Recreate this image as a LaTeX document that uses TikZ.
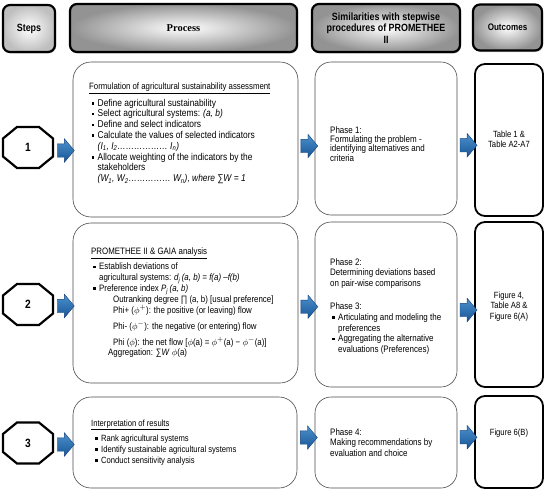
\documentclass[tikz,border=0pt]{standalone}
\usepackage{fontspec}
\setmainfont{Liberation Sans}[FakeStretch=0.85]
\newfontfamily\hserif{Liberation Serif}
\usetikzlibrary{shapes.arrows,shadows,calc}
\newcommand\bl{\makebox[6pt][l]{\rule[1.5pt]{2.6pt}{2.6pt}}}
\definecolor{arrtop}{RGB}{75,145,205}
\definecolor{arrbot}{RGB}{25,85,150}
\definecolor{arredge}{RGB}{20,65,125}
\begin{document}
\begin{tikzpicture}[x=1pt,y=-1pt,
  hdr/.style={draw=black, line width=2.2pt, rounded corners=7pt, inner color=white, outer color=gray!85,
    drop shadow={shadow xshift=1pt,shadow yshift=-1.5pt,opacity=0.35}, align=center, font=\bfseries\fontsize{10.5}{12}\selectfont},
  pbox/.style={draw=gray!60!black, line width=0.6pt, rounded corners=18pt, fill=white},
  sbox/.style={draw=gray!60!black, line width=0.6pt, rounded corners=16pt, fill=white},
  obox/.style={draw=black, line width=1.8pt, rounded corners=10pt, fill=white},
  octo/.style={draw=black, line width=2.2pt, fill=white, line join=miter},
  barrow/.style={single arrow, draw=arredge, line width=0.4pt, minimum height=17pt, inner xsep=0pt, inner ysep=6.5pt,
    single arrow head extend=5pt, single arrow tip angle=100, top color=arrtop, bottom color=arrbot},
  ptxt/.style={anchor=north west, inner sep=0pt, align=left, font=\fontsize{9}{10.8}\selectfont},
  stxt/.style={anchor=north west, inner sep=0pt, align=left},
  otxt/.style={inner sep=0pt, align=center, font=\fontsize{9}{10.5}\selectfont},
  steptxt/.style={inner sep=0pt, font=\bfseries\fontsize{12}{14}\selectfont}
]
\useasboundingbox[fill=white] (0,0) rectangle (550,493);

% headers
\node[hdr, inner color=white, outer color=gray!50, minimum width=52pt, minimum height=47pt] (hs) at (29,28.5) {Steps};
\node[hdr, minimum width=227pt, minimum height=48pt, font=\hserif\bfseries\fontsize{10.5}{12}\selectfont] (hp) at (183.5,28) {Process};
\node[hdr, minimum width=148pt, minimum height=48pt, font=\bfseries\fontsize{10.5}{11.5}\selectfont] (hsim) at (386,28) {Similarities with stepwise\\procedures of PROMETHEE\\II};
\node[hdr, minimum width=69pt, minimum height=46pt, font=\bfseries\fontsize{9.5}{11}\selectfont] (ho) at (507.5,27.5) {Outcomes};

% process boxes
\node[pbox, minimum width=225pt, minimum height=155pt] (p1) at (185.5,139.5) {};
\node[pbox, minimum width=225pt, minimum height=160pt] (p2) at (185.5,303) {};
\node[pbox, minimum width=224pt, minimum height=91pt] (p3) at (185,442.5) {};
% similarity boxes
\node[sbox, minimum width=142pt, minimum height=153pt] (s1) at (386,138.5) {};
\node[sbox, minimum width=142pt, minimum height=165pt] (s2) at (386,304.5) {};
\node[sbox, minimum width=142pt, minimum height=91pt] (s3) at (386,442.5) {};
% outcome boxes
\node[obox, minimum width=68pt, minimum height=152pt] (o1) at (509,140) {};
\node[obox, minimum width=68pt, minimum height=165pt] (o2) at (509,304.5) {};
\node[obox, minimum width=68pt, minimum height=92pt] (o3) at (509,442) {};

% step octagons
\foreach \n/\yy in {1/147.5,2/304.5,3/443}{
  \node[inner sep=0pt, minimum width=50pt, minimum height=41pt] (st\n) at (28,\yy) {};
  \draw[octo] ($(st\n)+(-11,-20.5)$) -- ($(st\n)+(11,-20.5)$) -- ($(st\n)+(25,-9)$) -- ($(st\n)+(25,9)$)
     -- ($(st\n)+(11,20.5)$) -- ($(st\n)+(-11,20.5)$) -- ($(st\n)+(-25,9)$) -- ($(st\n)+(-25,-9)$) -- cycle;
  \node[steptxt] at (st\n) {\n};
}

% block arrows
\node[barrow] (a1) at ($(st1.east)!0.5!(p1.west |- st1.east)+(0,3)$) {};
\node[barrow] (a2) at ($(st2.east)!0.5!(p2.west |- st2.east)+(0,1.5)$) {};
\node[barrow] (a3) at ($(st3.east)!0.5!(p3.west |- st3.east)+(0,1.5)$) {};
\node[barrow] (b1) at ($(p1.east)!0.5!(s1.west)+(0,7)$) {};
\node[barrow] (b2) at ($(p2.east)!0.5!(s2.west)+(0,3)$) {};
\node[barrow] (b3) at ($(p3.east)!0.5!(s3.west)+(0,-5)$) {};
\node[barrow] (c1) at ($(s1.east)!0.5!(o1.west)+(0,6)$) {};
\node[barrow] (c2) at ($(s2.east)!0.5!(o2.west)+(0,5.5)$) {};
\node[barrow] (c3) at ($(s3.east)!0.5!(o3.west)+(0,-5)$) {};

% process texts
\node[ptxt, font=\fontsize{9.9}{10.8}\selectfont] (t1) at (89,83.0) {{\fontsize{9.2}{10.8}\selectfont\underline{Formulation of agricultural sustainability assessment}}\\[4.2pt]
\hspace*{2.5pt}\bl Define agricultural sustainability\\
\hspace*{2.5pt}\bl Select agricultural systems: \textit{(a, b)}\\
\hspace*{2.5pt}\bl Define and select indicators\\
\hspace*{2.5pt}\bl Calculate the values of selected indicators\\
\hspace*{8.5pt}\textit{(I\textsubscript{1}, I\textsubscript{2}……………… I\textsubscript{n})}\\
\hspace*{2.5pt}\bl Allocate weighting of the indicators by the\\
\hspace*{8.5pt}stakeholders\\
\hspace*{8.5pt}\textit{(W\textsubscript{1}, W\textsubscript{2}…………… W\textsubscript{n}), where ∑W = 1}};

\node[ptxt, font=\fontsize{9.3}{10.9}\selectfont] (t2) at (91,247.6) {\underline{PROMETHEE II \& GAIA analysis}\\[4.2pt]
\hspace*{2pt}\bl Establish deviations of\\
\hspace*{8pt}agricultural systems: \textit{d\textsubscript{j}\,(a, b) = f(a) –f(b)}\\
\hspace*{2pt}\bl Preference index \textit{P\textsubscript{j}\,(a, b)}\\
\hspace*{22pt}Outranking degree ∏ (a, b) [usual preference]\\
\hspace*{22pt}Phi+ ($\phi^{+}$): the positive (or leaving) flow\\[5pt]
\hspace*{22pt}Phi- ($\phi^{-}$): the negative (or entering) flow\\[5pt]
\hspace*{22pt}Phi ($\phi$): the net flow [$\phi$(a) = $\phi^{+}$(a) − $\phi^{-}$(a)]\\
\hspace*{17pt}Aggregation: ∑\textit{W} $\phi$(a)};

\node[ptxt] (t3) at (91,419.4) {\underline{Interpretation of results}\\[4.5pt]
\hspace*{4pt}\bl Rank agricultural systems\\
\hspace*{4pt}\bl Identify sustainable agricultural systems\\
\hspace*{4pt}\bl Conduct sensitivity analysis};

% similarity texts
\node[stxt, font=\fontsize{9.4}{9.3}\selectfont] (u1) at (330,126.2) {Phase 1:\\Formulating the problem -\\identifying alternatives and\\criteria};
\node[stxt, font=\fontsize{9.4}{10.7}\selectfont] (u2) at (330,258.2) {Phase 2:\\Determining deviations based\\on pair-wise comparisons\\[12.5pt]
Phase 3:\\
\hspace*{2pt}\bl Articulating and modeling the\\
\hspace*{8pt}preferences\\
\hspace*{2pt}\bl Aggregating the alternative\\
\hspace*{8pt}evaluations (Preferences)};
\node[stxt, font=\fontsize{9.4}{10.5}\selectfont] (u3) at (330,428.2) {Phase 4:\\Making recommendations by\\evaluation and choice};

% outcome texts
\node[otxt] at (o1.center |- 0,139.5) {Table 1 \&\\Table A2-A7};
\node[otxt] at (o2.center |- 0,306.5) {Figure 4,\\Table A8 \&\\Figure 6(A)};
\node[otxt] at (o3.center |- 0,433.5) {Figure 6(B)};
\end{tikzpicture}
\end{document}
